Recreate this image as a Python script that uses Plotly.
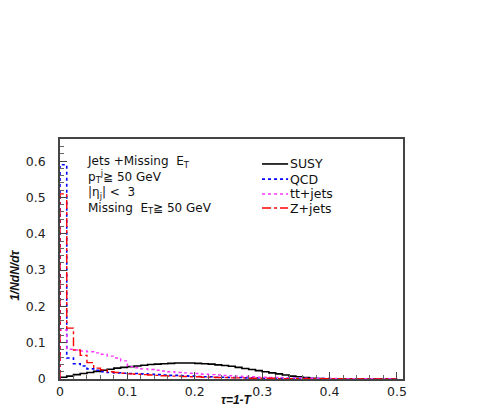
import numpy as np
import plotly.graph_objects as go

bin_edges = [round(i * 0.01, 2) for i in range(51)]

susy = [0.005, 0.008, 0.012, 0.015, 0.018, 0.021, 0.024, 0.027, 0.030, 0.032,
        0.034, 0.036, 0.038, 0.040, 0.041, 0.042, 0.043, 0.044, 0.044, 0.044,
        0.043, 0.042, 0.041, 0.039, 0.037, 0.035, 0.032, 0.029, 0.026, 0.023,
        0.020, 0.017, 0.014, 0.011, 0.008, 0.006, 0.004, 0.002, 0.001, 0.0005,
        0, 0, 0, 0, 0, 0, 0, 0, 0, 0]
qcd = [0.59, 0.058, 0.042, 0.036, 0.028, 0.024, 0.020, 0.018, 0.017, 0.016,
       0.015, 0.015, 0.014, 0.013, 0.012, 0.011, 0.010, 0.010, 0.009, 0.008,
       0.007, 0.006, 0.006, 0.005, 0.005, 0.004, 0.004, 0.003, 0.003, 0.003,
       0.002, 0.002, 0.002, 0.002, 0.001, 0.001, 0.001, 0.001, 0.001, 0.001,
       0.0005, 0.0005, 0.0005, 0.0005, 0, 0, 0, 0, 0, 0]
ttjets = [0.135, 0.082, 0.080, 0.077, 0.075, 0.072, 0.068, 0.063, 0.058, 0.050,
          0.034, 0.031, 0.028, 0.026, 0.024, 0.022, 0.020, 0.018, 0.017, 0.016,
          0.015, 0.013, 0.012, 0.011, 0.010, 0.009, 0.008, 0.007, 0.006, 0.005,
          0.005, 0.004, 0.004, 0.003, 0.003, 0.003, 0.002, 0.002, 0.002, 0.0015,
          0.0015, 0.001, 0.001, 0.001, 0.001, 0.001, 0.001, 0.001, 0.001, 0.001]
zjets = [0.51, 0.14, 0.080, 0.065, 0.045, 0.030, 0.025, 0.020, 0.018, 0.016,
         0.014, 0.013, 0.012, 0.011, 0.010, 0.009, 0.008, 0.008, 0.007, 0.006,
         0.006, 0.005, 0.005, 0.004, 0.004, 0.003, 0.003, 0.003, 0.002, 0.002,
         0.002, 0.002, 0.001, 0.001, 0.001, 0.001, 0.001, 0.0005, 0.0005, 0.0005,
         0.0005, 0.0005, 0, 0, 0, 0, 0, 0, 0, 0]

series_names = ["SUSY", "QCD", "tt+jets", "Z+jets"]
series_values = [susy, qcd, ttjets, zjets]
series_colors = ["#000000", "#0000ff", "#ff33ff", "#ff0000"]
series_dash = ["solid", "dot", "dot", "dashdot"]
series_width = [1.6, 1.6, 1.4, 1.4]

x_ticks = [0, 0.1, 0.2, 0.3, 0.4, 0.5]
x_ticklabels = ["0", "0.1", "0.2", "0.3", "0.4", "0.5"]
y_ticks = [0, 0.1, 0.2, 0.3, 0.4, 0.5, 0.6]
y_ticklabels = ["0", "0.1", "0.2", "0.3", "0.4", "0.5", "0.6"]

info_lines = [
    "Jets +Missing  E<sub>T</sub>",
    "p<sub>T</sub><sup>j</sup>≧ 50 GeV",
    "|η<sub>j</sub>| <  3",
    "Missing  E<sub>T</sub>≧ 50 GeV",
]


def hist_xy(vals):
    x = [bin_edges[0]] + bin_edges[:-1] + [bin_edges[-1], bin_edges[-1]]
    y = [0] + list(vals) + [vals[-1], 0]
    return x, y


fig = go.Figure()
for name, vals, color, dash, w in zip(series_names, series_values, series_colors,
                                      series_dash, series_width):
    x, y = hist_xy(vals)
    fig.add_trace(go.Scatter(x=x, y=y, mode="lines", name=name, showlegend=False,
                             line=dict(color=color, dash=dash, width=w, shape="hv")))

font_main = "DejaVu Sans, Liberation Sans, sans-serif"
font_narrow = "Liberation Sans Narrow, Liberation Sans, sans-serif"

annotations = [dict(text="<br>".join(info_lines), x=0.074, y=0.945, xref="paper",
                    yref="paper", xanchor="left", yanchor="top", align="left",
                    showarrow=False,
                    font=dict(family=font_main, size=12, color="#111"))]

# manual legend
shapes = []
leg_y = [0.896, 0.833, 0.771, 0.7125]
for name, color, dash, w, ly in zip(series_names, series_colors, series_dash,
                                    series_width, leg_y):
    shapes.append(dict(type="line", xref="paper", yref="paper", x0=0.589, x1=0.665,
                       y0=ly, y1=ly, line=dict(color=color, dash=dash, width=w)))
    annotations.append(dict(text=name, x=0.666, y=ly, xref="paper", yref="paper",
                            xanchor="left", yanchor="middle", showarrow=False,
                            font=dict(family=font_main, size=12.5, color="#111")))

# axis titles
annotations.append(dict(text="<i><b>τ=1-T</b></i>", x=0.517, y=-0.086, xref="paper",
                        yref="paper", xanchor="center", yanchor="middle",
                        showarrow=False,
                        font=dict(family=font_narrow, size=12, color="#111")))
annotations.append(dict(text="<i><b>1/NdN/dτ</b></i>", x=-0.131, y=0.43, xref="paper",
                        yref="paper", xanchor="center", yanchor="middle",
                        showarrow=False, textangle=-90,
                        font=dict(family=font_narrow, size=12, color="#111")))

fig.update_layout(
    width=485, height=415,
    margin=dict(l=52, r=90, t=131, b=44, autoexpand=False),
    paper_bgcolor="white", plot_bgcolor="white",
    font=dict(family=font_main, size=12.5, color="#222"),
    showlegend=False,
    annotations=annotations,
    shapes=shapes,
    xaxis=dict(range=[0, 0.509], tickvals=x_ticks, ticktext=x_ticklabels,
               ticks="inside", ticklen=7, tickcolor="#444", automargin=False,
               minor=dict(ticks="inside", ticklen=4, dtick=0.02, tickcolor="#666"),
               showline=True, mirror=True, linecolor="#444", linewidth=1.5,
               showgrid=False, zeroline=False, ticklabelstandoff=0),
    yaxis=dict(range=[0, 0.661], tickvals=y_ticks, ticktext=y_ticklabels,
               ticks="inside", ticklen=7, tickcolor="#444", automargin=False,
               minor=dict(ticks="inside", ticklen=4, dtick=0.02, tickcolor="#666"),
               showline=True, mirror=True, linecolor="#444", linewidth=1.5,
               showgrid=False, zeroline=False, ticklabelstandoff=10),
)

fig.write_html("out.html")
